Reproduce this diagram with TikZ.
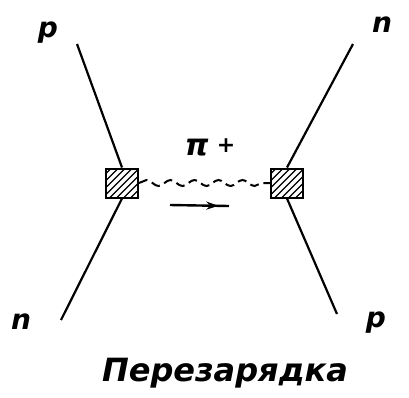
\documentclass[tikz,border=0pt]{standalone}
\usepackage{fontspec}
\setmainfont{DejaVu Sans}
\usetikzlibrary{decorations.pathmorphing,decorations.markings,arrows.meta}
\begin{document}
\begin{tikzpicture}[x=1pt,y=-1pt,
  vertexbox/.style={draw,line width=2pt,minimum width=32pt,minimum height=29pt,inner sep=0pt,
    path picture={\foreach \k in {-40,-33,...,40}{\draw[line width=1.1pt] ([xshift=\k pt]path picture bounding box.south) -- ++(30pt,30pt);}}},
  legline/.style={line width=2.2pt},
  lab/.style={font=\fontsize{28}{28}\selectfont\bfseries\itshape,inner sep=0pt},
  meson/.style={line width=2pt,dash pattern=on 9pt off 5pt,decorate,decoration={snake,segment length=24pt,amplitude=3pt}}
]
\useasboundingbox (0,0) rectangle (409,397);
\node[vertexbox] (L) at (122,183) {};
\node[vertexbox] (R) at (287,183) {};
\coordinate (lt) at (77,44);
\coordinate (lb) at (61,320);
\coordinate (rt) at (353,44);
\coordinate (rb) at (337,314);
\draw[legline] (lt) -- (L.north);
\draw[legline] (L.south) -- (lb);
\draw[legline] (rt) -- (R.north);
\draw[legline] (R.south) -- (rb);
\draw[meson] (L.east) -- (R.west);
\coordinate (a1) at (170,205);
\coordinate (a2) at (229,206);
\draw[line width=2.4pt,decoration={markings,mark=at position 0.82 with {\arrow{Stealth[length=12pt,width=8pt]}}},postaction={decorate}] (a1) -- (a2);
\node[lab] (p1) at (48,33) {p};
\node[lab] (n1) at (382,25) {n};
\node[lab] (n2) at (21,322) {n};
\node[lab] (p2) at (376,323) {p};
\node[lab,font=\fontsize{30}{30}\selectfont\bfseries\itshape] (pi) at (210,147) {π\;\raisebox{3pt}{\fontsize{22}{22}\selectfont +}};
\node[font=\fontsize{32}{32}\selectfont\bfseries\itshape,inner sep=0pt] (title) at (225,373) {Перезарядка};
\end{tikzpicture}
\end{document}
